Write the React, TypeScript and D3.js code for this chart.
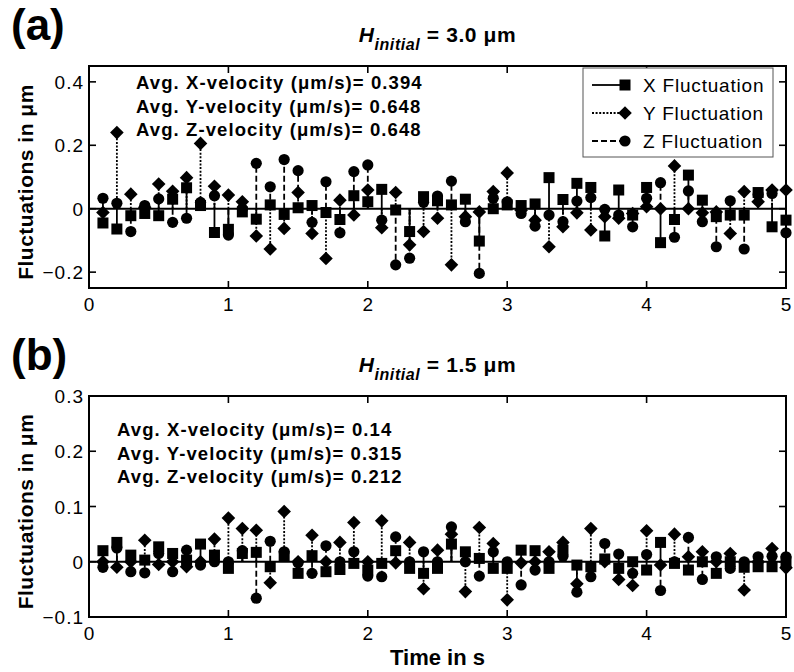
import React from "react";
import * as d3 from "d3";

// Sample times (s): one sample every 0.1 s from 0.1 to 5.0
const time = d3.range(1, 51).map((i) => i / 10);

// Panel (a): H_initial = 3.0 µm
const xFluctA = [
  -0.045, -0.064, -0.022, -0.015, -0.022, 0.03, 0.066, 0.01, -0.075, -0.065,
  -0.01, -0.033, 0.012, -0.018, 0.003, 0.01, -0.012, -0.034, 0.041, 0.022,
  0.061, -0.004, -0.072, 0.038, 0.025, 0.012, 0.03, -0.102, 0.0, 0.012,
  0.01, 0.015, 0.098, 0.029, 0.08, 0.067, -0.086, 0.059, -0.02, 0.067,
  -0.107, -0.034, 0.106, 0.027, -0.025, -0.02, -0.02, 0.051, -0.057, -0.036,
];
const yFluctA = [
  -0.012, 0.24, 0.046, 0.005, 0.078, 0.055, 0.098, 0.206, 0.071, 0.043,
  0.022, -0.086, -0.127, -0.062, 0.051, -0.078, -0.157, 0.027, -0.02, 0.059,
  -0.06, 0.051, -0.114, -0.072, -0.03, -0.177, -0.025, -0.01, 0.054, 0.113,
  -0.005, -0.036, -0.12, -0.057, -0.013, -0.067, -0.025, -0.03, -0.015, 0.006,
  0.0, 0.135, 0.0, -0.013, -0.01, -0.078, 0.054, 0.022, 0.059, 0.059,
];
const zFluctA = [
  0.033, 0.017, -0.072, 0.01, 0.031, -0.043, -0.03, 0.02, 0.041, -0.083,
  0.0, 0.143, 0.069, 0.155, 0.12, -0.043, 0.085, -0.076, 0.117, 0.138,
  -0.036, -0.177, -0.156, 0.02, 0.04, 0.087, -0.041, -0.204, 0.033, 0.022,
  -0.015, -0.055, -0.02, -0.041, 0.024, 0.035, -0.002, -0.02, -0.057, 0.033,
  0.082, -0.09, 0.056, -0.041, -0.12, 0.025, -0.127, 0.045, 0.048, -0.076,
];

// Panel (b): H_initial = 1.5 µm
const xFluctB = [
  0.02, 0.035, 0.012, 0.003, 0.027, 0.015, 0.003, 0.032, 0.012, -0.012,
  0.015, 0.017, -0.009, 0.01, -0.021, 0.011, -0.018, -0.014, -0.003, -0.015,
  -0.003, 0.02, -0.012, -0.021, -0.012, 0.032, 0.018, 0.006, -0.012, -0.012,
  0.021, 0.02, -0.012, 0.021, -0.006, -0.009, 0.005, -0.012, 0.0, -0.015,
  0.035, -0.003, -0.015, 0.0, -0.021, 0.0, -0.01, -0.009, -0.009, 0.0,
];
const yFluctB = [
  0.0, -0.01, 0.0, 0.039, -0.005, 0.0, -0.009, 0.0, 0.041, 0.079,
  0.06, 0.057, -0.038, 0.091, 0.0, 0.048, 0.0, 0.035, 0.071, 0.0,
  0.074, -0.002, 0.035, -0.049, 0.021, 0.05, -0.054, 0.062, 0.033, -0.069,
  -0.002, 0.0, 0.018, 0.035, -0.04, 0.06, 0.0, -0.032, -0.043, 0.056,
  -0.006, 0.05, 0.009, 0.018, 0.0, 0.015, -0.051, 0.0, 0.024, -0.011,
];
const zFluctB = [
  -0.01, 0.025, -0.018, -0.02, 0.015, -0.018, 0.021, -0.006, 0.0, 0.0,
  0.02, -0.066, 0.037, 0.018, -0.002, -0.021, 0.029, 0.0, 0.018, -0.026,
  -0.027, 0.045, 0.0, 0.018, 0.0, 0.063, 0.0, -0.026, 0.018, 0.0,
  -0.042, -0.015, 0.0, 0.01, -0.055, -0.027, 0.033, 0.014, -0.021, 0.013,
  -0.052, 0.0, 0.044, -0.032, 0.009, -0.012, 0.0, 0.009, 0.01, 0.009,
];

const xTicks = [0, 1, 2, 3, 4, 5];
const yTicksA = [-0.2, 0, 0.2, 0.4];
const yTicksB = [-0.1, 0, 0.1, 0.2, 0.3];

const avgLabelsA = [
  "Avg. X-velocity (μm/s)= 0.394",
  "Avg. Y-velocity (μm/s)= 0.648",
  "Avg. Z-velocity (μm/s)= 0.648",
];
const avgLabelsB = [
  "Avg. X-velocity (μm/s)= 0.14",
  "Avg. Y-velocity (μm/s)= 0.315",
  "Avg. Z-velocity (μm/s)= 0.212",
];
const legendNames = ["X Fluctuation", "Y Fluctuation", "Z Fluctuation"];

type Shape = "square" | "diamond" | "circle";
const seriesStyle: { shape: Shape; dash: string }[] = [
  { shape: "square", dash: "none" },
  { shape: "diamond", dash: "2 1.6" },
  { shape: "circle", dash: "6 3" },
];

const FONT = "'Liberation Sans', Arial, Helvetica, sans-serif";
const W = 794;
const H = 672;
const left = 89;
const right = 786;

function Marker({ shape, x, y }: { shape: Shape; x: number; y: number }) {
  if (shape === "square") {
    return <rect x={x - 5.5} y={y - 5.5} width={11} height={11} fill="#000" />;
  }
  if (shape === "diamond") {
    const r = 6.8;
    return (
      <path
        d={`M${x},${y - r}L${x + r},${y}L${x},${y + r}L${x - r},${y}Z`}
        fill="#000"
      />
    );
  }
  return <circle cx={x} cy={y} r={5.6} fill="#000" />;
}

const fmt = (v: number) => (v === 0 ? "0" : String(v).replace("-", "\u2212"));

function Panel({
  top,
  bottom,
  domain,
  yTicks,
  series,
  letter,
  hValue,
  avgLabels,
  avgX,
  avgY,
  showLegend,
}: {
  top: number;
  bottom: number;
  domain: [number, number];
  yTicks: number[];
  series: number[][];
  letter: string;
  hValue: string;
  avgLabels: string[];
  avgX: number;
  avgY: number;
  showLegend: boolean;
}) {
  const x = d3.scaleLinear().domain([0, 5]).range([left, right]);
  const y = d3.scaleLinear().domain(domain).range([bottom, top]);
  const y0 = y(0);
  const tickLen = 7;
  const cx = (left + right) / 2;

  return (
    <g>
      {/* panel letter */}
      <text x={11} y={top - 26} fontFamily={FONT} fontWeight="bold" fontSize={44}>
        {letter}
      </text>
      {/* title */}
      <text
        x={cx}
        y={top - 24}
        textAnchor="middle"
        fontFamily={FONT}
        fontWeight="bold"
        fontSize={21}
        letterSpacing={0.6}
      >
        <tspan fontStyle="italic">H</tspan>
        <tspan fontStyle="italic" fontSize={16} dy={8}>
          initial
        </tspan>
        <tspan dy={-8}>{` = ${hValue} μm`}</tspan>
      </text>

      {/* stems and markers */}
      {series.map((vals, si) => (
        <g key={si}>
          {vals.map((v, i) => (
            <line
              key={i}
              x1={x(time[i])}
              x2={x(time[i])}
              y1={y0}
              y2={y(v)}
              stroke="#000"
              strokeWidth={1.8}
              strokeDasharray={seriesStyle[si].dash}
            />
          ))}
          {vals.map((v, i) => (
            <Marker key={i} shape={seriesStyle[si].shape} x={x(time[i])} y={y(v)} />
          ))}
        </g>
      ))}

      {/* zero baseline */}
      <line x1={left} x2={right} y1={y0} y2={y0} stroke="#000" strokeWidth={2} />

      {/* axes box */}
      <rect
        x={left}
        y={top}
        width={right - left}
        height={bottom - top}
        fill="none"
        stroke="#000"
        strokeWidth={2}
      />

      {/* x ticks (inward, top and bottom) */}
      {xTicks.map((t) => (
        <g key={t}>
          <line x1={x(t)} x2={x(t)} y1={bottom} y2={bottom - tickLen} stroke="#000" strokeWidth={1.6} />
          <line x1={x(t)} x2={x(t)} y1={top} y2={top + tickLen} stroke="#000" strokeWidth={1.6} />
          <text
            x={x(t)}
            y={bottom + 23}
            textAnchor="middle"
            fontFamily={FONT}
            fontSize={19}
          >
            {t}
          </text>
        </g>
      ))}

      {/* y ticks (inward, left and right) */}
      {yTicks.map((t) => (
        <g key={t}>
          <line x1={left} x2={left + tickLen} y1={y(t)} y2={y(t)} stroke="#000" strokeWidth={1.6} />
          <line x1={right} x2={right - tickLen} y1={y(t)} y2={y(t)} stroke="#000" strokeWidth={1.6} />
          <text
            x={84}
            y={y(t) + 7}
            textAnchor="end"
            fontFamily={FONT}
            fontSize={19}
            letterSpacing={1}
          >
            {fmt(t)}
          </text>
        </g>
      ))}

      {/* y label */}
      <text
        transform={`translate(33,${(top + bottom) / 2 + 5}) rotate(-90)`}
        textAnchor="middle"
        fontFamily={FONT}
        fontWeight="bold"
        fontSize={21}
        letterSpacing={0.5}
      >
        Fluctuations in μm
      </text>

      {/* average velocities */}
      {avgLabels.map((s, i) => (
        <text
          key={i}
          x={avgX}
          y={avgY + i * 23.5}
          fontFamily={FONT}
          fontWeight="bold"
          fontSize={18.5}
          letterSpacing={1.1}
        >
          {s}
        </text>
      ))}

      {/* legend */}
      {showLegend && (
        <g>
          <rect x={583} y={top + 2} width={190} height={89} fill="#fff" stroke="#555" strokeWidth={1} />
          {legendNames.map((name, i) => {
            const ly = top + 19 + i * 28;
            return (
              <g key={name}>
                <line
                  x1={592}
                  x2={624}
                  y1={ly}
                  y2={ly}
                  stroke="#000"
                  strokeWidth={1.8}
                  strokeDasharray={seriesStyle[i].dash}
                />
                <Marker shape={seriesStyle[i].shape} x={625} y={ly} />
                <text x={643} y={ly + 7} fontFamily={FONT} fontSize={19} letterSpacing={0.8}>
                  {name}
                </text>
              </g>
            );
          })}
        </g>
      )}
    </g>
  );
}

export default function App() {
  return (
    <svg
      width={W}
      height={H}
      viewBox={`0 0 ${W} ${H}`}
      style={{ position: "absolute", left: 0, top: 0, background: "#fff" }}
    >
      <rect width={W} height={H} fill="#fff" />
      <Panel
        top={66}
        bottom={288}
        domain={[-0.25, 0.45]}
        yTicks={yTicksA}
        series={[xFluctA, yFluctA, zFluctA]}
        letter="(a)"
        hValue="3.0"
        avgLabels={avgLabelsA}
        avgX={136}
        avgY={89}
        showLegend={true}
      />
      <Panel
        top={396}
        bottom={617}
        domain={[-0.1, 0.3]}
        yTicks={yTicksB}
        series={[xFluctB, yFluctB, zFluctB]}
        letter="(b)"
        hValue="1.5"
        avgLabels={avgLabelsB}
        avgX={117}
        avgY={436}
        showLegend={false}
      />
      <text
        x={(left + right) / 2}
        y={665}
        textAnchor="middle"
        fontFamily={FONT}
        fontWeight="bold"
        fontSize={22}
      >
        Time in s
      </text>
    </svg>
  );
}
